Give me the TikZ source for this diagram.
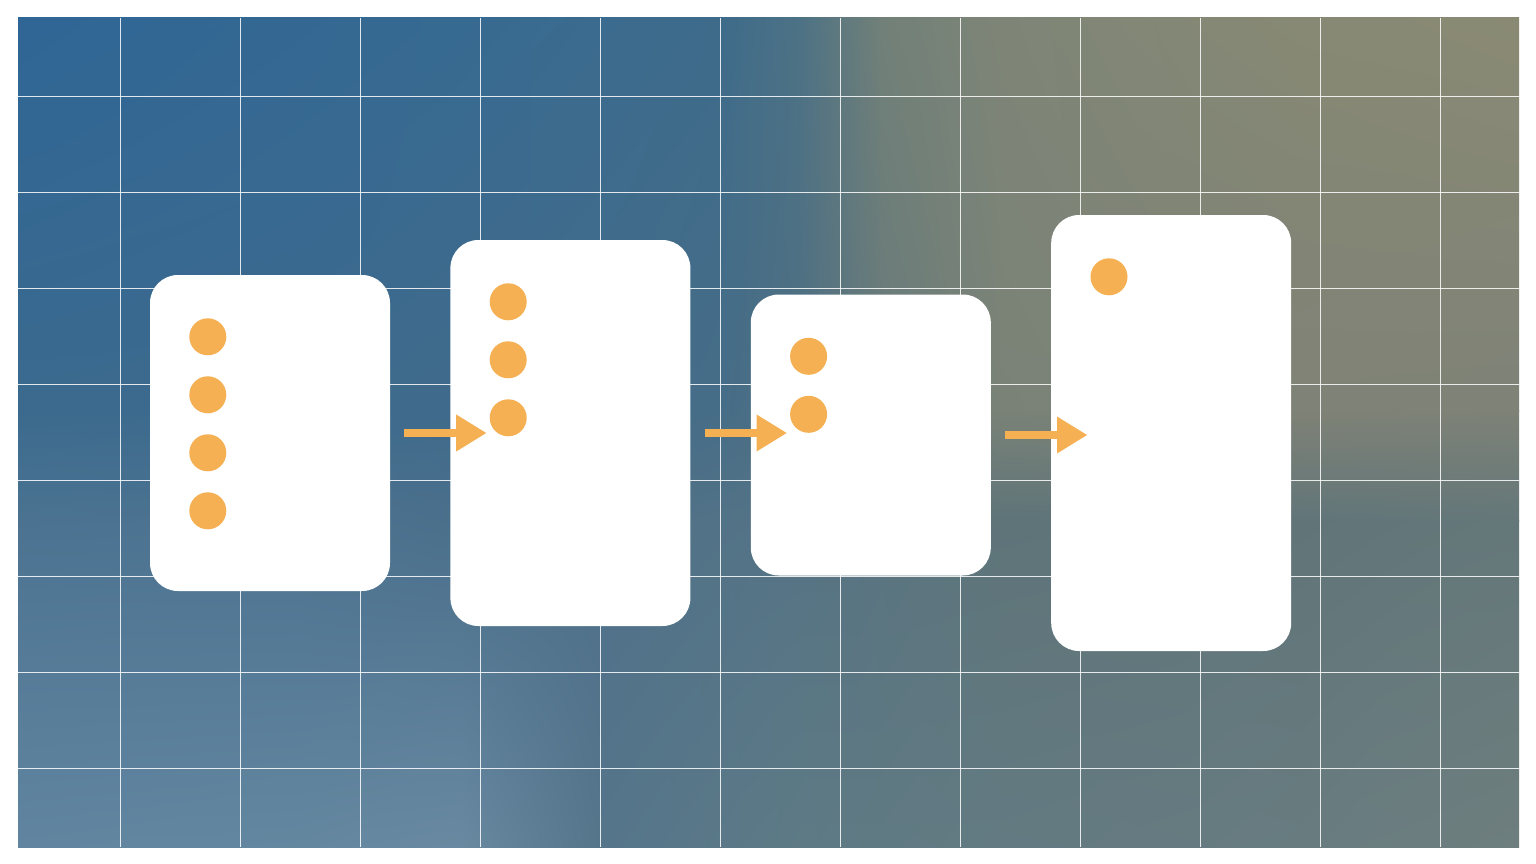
\documentclass[tikz,border=0pt]{standalone}
\usetikzlibrary{positioning,arrows.meta,shadings,calc}

% background colours: rows a (top) to d (bottom), columns 0 to 9
\definecolor{bga0}{HTML}{2F6695}\definecolor{bga1}{HTML}{346893}
\definecolor{bga2}{HTML}{376A91}\definecolor{bga3}{HTML}{3B6B8F}
\definecolor{bga4}{HTML}{3E6B8A}\definecolor{bga5}{HTML}{4D7285}
\definecolor{bga6}{HTML}{718078}\definecolor{bga7}{HTML}{7E8577}
\definecolor{bga8}{HTML}{878974}\definecolor{bga9}{HTML}{8A8A74}
\definecolor{bgb0}{HTML}{3B6A8E}\definecolor{bgb1}{HTML}{3D6A8D}
\definecolor{bgb2}{HTML}{406A8B}\definecolor{bgb3}{HTML}{436B89}
\definecolor{bgb4}{HTML}{466D87}\definecolor{bgb5}{HTML}{4F6F82}
\definecolor{bgb6}{HTML}{677A7B}\definecolor{bgb7}{HTML}{7A8277}
\definecolor{bgb8}{HTML}{7F8276}\definecolor{bgb9}{HTML}{7E8277}
\definecolor{bgc0}{HTML}{4B7391}\definecolor{bgc1}{HTML}{4C7290}
\definecolor{bgc2}{HTML}{4A6F8B}\definecolor{bgc3}{HTML}{4E7089}
\definecolor{bgc4}{HTML}{527287}\definecolor{bgc5}{HTML}{557384}
\definecolor{bgc6}{HTML}{597380}\definecolor{bgc7}{HTML}{5E7479}
\definecolor{bgc8}{HTML}{617579}\definecolor{bgc9}{HTML}{647779}
\definecolor{bgd0}{HTML}{6185A0}\definecolor{bgd1}{HTML}{6487A0}
\definecolor{bgd2}{HTML}{6989A1}\definecolor{bgd3}{HTML}{55758B}
\definecolor{bgd4}{HTML}{5A7887}\definecolor{bgd5}{HTML}{5D7A85}
\definecolor{bgd6}{HTML}{607A83}\definecolor{bgd7}{HTML}{637A82}
\definecolor{bgd8}{HTML}{687C80}\definecolor{bgd9}{HTML}{6E7E7E}
\definecolor{dotc}{HTML}{F4B052}

\begin{document}
\begin{tikzpicture}[x=1pt, y=-1pt,
    gridline/.style={draw=white, line width=0.9pt, opacity=0.85},
    card/.style={fill=white, rounded corners=28pt, minimum width=240pt, inner sep=0pt},
    dot/.style={circle, fill=dotc, minimum size=37pt, inner sep=0pt},
    handoff/.style={draw=dotc, line width=8pt,
        -{Triangle[length=30pt, width=37pt, line width=0pt]}}]
    \useasboundingbox (0,0) rectangle (1536,864);
    \fill[white] (0,0) rectangle (1536,864);

    % the shaded background, patch by patch
    \begin{scope}
        \clip (18,18) rectangle (1519,847);
        \foreach \xa/\xb/\i/\j in {18/300/0/1, 300/460/1/2, 460/600/2/3,
            600/720/3/4, 720/800/4/5, 800/880/5/6, 880/1000/6/7,
            1000/1300/7/8, 1300/1519/8/9}
        \foreach \ya/\yb/\ra/\rb in {18/410/a/b, 410/520/b/c, 520/847/c/d}
        \shade[upper left=bg\ra\i, upper right=bg\ra\j,
            lower left=bg\rb\i, lower right=bg\rb\j]
            (\xa,\ya) rectangle (\xb+1,\yb+1);
    \end{scope}

    % the grid lines
    \foreach \x in {120,240,...,1440}
    \draw[gridline] (\x,18) -- (\x,847);
    \foreach \y in {96,192,...,768}
    \draw[gridline] (18,\y) -- (1519,\y);

    % the four cards
    \node[card, minimum height=316pt] (card1) at (270,433) {};
    \node[card, minimum height=386pt, right=60pt of card1] (card2) {};
    \node[card, minimum height=281pt, right=60pt of card2, yshift=-2pt] (card3) {};
    \node[card, minimum height=436pt, right=60pt of card3, yshift=2pt] (card4) {};

    % the dots in each card
    \foreach \c/\n in {1/4, 2/3, 3/2, 4/1}
    \foreach \k in {1,...,\n}
    \node[dot] (d\c\k) at ([xshift=58pt, yshift={-62pt-(\k-1)*58pt}]card\c.north west) {};

    % the arrows between the cards
    \draw[handoff] ([xshift=14pt]card1.east) -- ($(card1.east -| card2.west)+(36pt,0)$);
    \draw[handoff] ([xshift=14pt]card2.east) -- ($(card2.east -| card3.west)+(36pt,0)$);
    \draw[handoff] ([xshift=14pt]card3.east) -- ($(card3.east -| card4.west)+(36pt,0)$);
\end{tikzpicture}
\end{document}
